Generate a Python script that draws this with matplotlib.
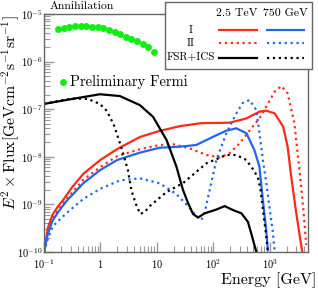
import matplotlib
matplotlib.use("Agg")
import matplotlib.pyplot as plt
from matplotlib.lines import Line2D
from matplotlib.patches import Rectangle
from matplotlib.ticker import FixedLocator, LogLocator, NullFormatter

plt.rcParams['font.family'] = 'serif'
plt.rcParams['font.serif'] = ['cmr10', 'DejaVu Serif']
plt.rcParams['mathtext.fontset'] = 'cm'
plt.rcParams['axes.formatter.use_mathtext'] = True

W, H = 318, 289

# Fermi preliminary points
fermi_E = [0.178, 0.224, 0.282, 0.355, 0.447, 0.562, 0.708, 0.891, 1.12, 1.41,
           1.78, 2.24, 2.82, 3.55, 4.47, 5.62, 7.08, 8.91]
fermi_F = [4.8e-6, 5.15e-6, 5.4e-6, 5.6e-6, 5.6e-6, 5.5e-6, 5.4e-6, 5.25e-6, 5.0e-6, 4.6e-6,
           4.2e-6, 3.8e-6, 3.35e-6, 3.0e-6, 2.75e-6, 2.4e-6, 2.06e-6, 1.62e-6]

# 2.5 TeV, model I
red_I_E = [0.1, 0.117, 0.141, 0.178, 0.219, 0.316, 0.5, 1.0, 2.0, 5.0, 11.2, 25.7, 61.7,
           195, 389, 661, 871, 1230, 1740, 2090, 2400, 2950, 3630, 3800]
red_I_F = [1.0e-10, 3.2e-10, 6.0e-10, 9.2e-10, 1.24e-9, 2.3e-9, 4.4e-9, 8.6e-9, 1.46e-8, 2.6e-8,
           3.5e-8, 4.4e-8, 5.1e-8, 5.2e-8, 6.4e-8, 8.9e-8, 9.3e-8, 8.2e-8, 4.3e-8, 1.63e-8,
           4.1e-9, 7.0e-10, 1.4e-10, 1.0e-10]

# 2.5 TeV, model II
red_II_E = [0.1, 0.117, 0.141, 0.178, 0.251, 0.5, 1.0, 2.0, 5.0, 11.2, 19.5, 38, 76, 132,
            195, 295, 501, 661, 871, 1230, 1620, 2090, 2750, 3390, 3980, 4470]
red_II_F = [1.0e-10, 2.6e-10, 4.9e-10, 7.6e-10, 1.30e-9, 3.3e-9, 6.1e-9, 1.04e-8, 1.44e-8,
            1.77e-8, 1.83e-8, 1.51e-8, 1.09e-8, 9.7e-9, 1.19e-8, 1.92e-8, 4.3e-8, 6.4e-8,
            1.13e-7, 2.33e-7, 3.07e-7, 2.16e-7, 5.1e-8, 5.3e-9, 7.6e-10, 1.4e-10]

# 750 GeV, model I
blue_I_E = [0.1, 0.117, 0.141, 0.178, 0.251, 0.5, 1.0, 2.0, 5.0, 11.2, 25.7, 50, 100, 170,
            257, 389, 537, 661, 759, 871, 933]
blue_I_F = [1.0e-10, 2.4e-10, 4.5e-10, 6.9e-10, 1.18e-9, 2.8e-9, 5.3e-9, 8.6e-9, 1.22e-8,
            1.55e-8, 1.63e-8, 1.77e-8, 2.64e-8, 3.53e-8, 3.97e-8, 3.12e-8, 1.39e-8, 6.2e-9,
            1.24e-9, 2.9e-10, 1.1e-10]

# 750 GeV, model II
blue_II_E = [0.1, 0.118, 0.144, 0.252, 0.497, 0.98, 2.2, 5.0, 11.3, 22.3, 38.4, 50.5, 61.8,
             70.8, 86.7, 114, 171, 258, 333, 443, 582, 713, 760, 885, 1000, 1130, 1225]
blue_II_F = [1.0e-10, 1.97e-10, 3.5e-10, 6.6e-10, 1.30e-9, 2.11e-9, 3.18e-9, 3.53e-9, 2.77e-9,
             1.65e-9, 8.4e-10, 5.7e-10, 4.7e-10, 6.9e-10, 2.0e-9, 8.6e-9, 3.12e-8, 8.2e-8,
             1.35e-7, 1.56e-7, 9.6e-8, 1.63e-8, 8.6e-9, 2.56e-9, 8.4e-10, 2.9e-10, 1.1e-10]

# FSR+ICS, 2.5 TeV
fsr_25_E = [0.1, 0.313, 0.98, 2.21, 5.0, 8.6, 14.9, 22.3, 29.2, 35.8, 43.9, 53.8, 70.8, 114,
            160, 224, 316, 413, 480, 582]
fsr_25_F = [1.29e-7, 1.64e-7, 2.06e-7, 1.89e-7, 1.22e-7, 6.9e-8, 2.25e-8, 6.2e-9, 2.0e-9,
            1.07e-9, 6.3e-10, 5.3e-10, 6.5e-10, 7.8e-10, 9.2e-10, 7.6e-10, 6.5e-10, 4.3e-10,
            2.3e-10, 1.0e-10]

# FSR+ICS, 750 GeV
fsr_750_E = [0.1, 0.192, 0.354, 0.60, 0.98, 1.30, 1.73, 2.31, 3.07, 3.54, 4.25, 5.1, 6.1, 7.5,
             14.9, 29.2, 75.9, 171, 258, 387, 506, 621, 693, 783, 867, 933]
fsr_750_F = [1.29e-7, 1.52e-7, 1.68e-7, 1.64e-7, 1.29e-7, 9.2e-8, 4.7e-8, 1.69e-8, 5.3e-9,
             2.0e-9, 1.02e-9, 6.3e-10, 6.9e-10, 9.2e-10, 1.82e-9, 2.8e-9, 7.3e-9, 1.09e-8,
             1.09e-8, 8.6e-9, 5.5e-9, 3.7e-9, 2.0e-9, 6.0e-10, 2.3e-10, 1.0e-10]

x_ticks = [0.1, 1, 10, 100, 1000]
x_tick_labels = [r'$10^{-1}$', r'$1$', r'$10$', r'$10^{2}$', r'$10^{3}$']
y_ticks = [1e-10, 1e-9, 1e-8, 1e-7, 1e-6, 1e-5]
y_tick_labels = [r'$10^{-10}$', r'$10^{-9}$', r'$10^{-8}$', r'$10^{-7}$', r'$10^{-6}$', r'$10^{-5}$']

RED = '#ff2a1a'
BLUE = '#2266ee'
GREEN = '#11ee11'
LW = 1.6


def fx(px):
    return px / W


def fy(py):
    return 1 - py / H


fig = plt.figure(figsize=(W / 100, H / 100), dpi=100)
ax = fig.add_axes([fx(44), fy(252), fx(308) - fx(44), fy(14) - fy(252)])

ax.plot(fermi_E, fermi_F, 'o', color=GREEN, ms=5, mec='none', zorder=3)
ax.plot(red_I_E, red_I_F, '-', color=RED, lw=LW)
ax.plot(red_II_E, red_II_F, ':', color=RED, lw=LW)
ax.plot(blue_I_E, blue_I_F, '-', color=BLUE, lw=LW)
ax.plot(blue_II_E, blue_II_F, ':', color=BLUE, lw=LW)
ax.plot(fsr_25_E, fsr_25_F, '-', color='black', lw=LW)
ax.plot(fsr_750_E, fsr_750_F, ':', color='black', lw=LW)

ax.set_xscale('log')
ax.set_yscale('log')
ax.set_xlim(0.1, 4800)
ax.set_ylim(1e-10, 1e-5)

ax.xaxis.set_major_locator(FixedLocator(x_ticks))
ax.set_xticklabels(x_tick_labels)
ax.yaxis.set_major_locator(FixedLocator(y_ticks))
ax.set_yticklabels(y_tick_labels)
ax.xaxis.set_minor_locator(LogLocator(base=10, subs=range(2, 10), numticks=20))
ax.yaxis.set_minor_locator(LogLocator(base=10, subs=range(2, 10), numticks=20))
ax.xaxis.set_minor_formatter(NullFormatter())
ax.yaxis.set_minor_formatter(NullFormatter())

ax.tick_params(which='both', direction='in', colors='#999999', labelcolor='black',
               labelsize=7.5, top=False, right=False)
ax.tick_params(which='major', length=7, width=1)
ax.tick_params(which='minor', length=4, width=0.8)
ax.tick_params(axis='x', pad=4)
ax.tick_params(axis='y', pad=1)
for s in ax.spines.values():
    s.set_color('#666666')
    s.set_linewidth(1.0)

ax.set_ylabel(r'$E^2\times\mathrm{Flux[GeVcm^{-2}s^{-1}sr^{-1}]}$', fontsize=11.3)
ax.yaxis.set_label_coords(-0.085, 0.585)
fig.text(fx(316), fy(288), 'Energy [GeV]', ha='right', va='bottom', fontsize=11.5)
fig.text(fx(50), fy(6), 'Annihilation', ha='left', va='center', fontsize=8.5)

# Fermi marker label
fig.lines.append(Line2D([fx(62.7)], [fy(81.7)], marker='o', color=GREEN, ms=5, mec='none',
                        transform=fig.transFigure))
fig.text(fx(70), fy(82), 'Preliminary Fermi', ha='left', va='center', fontsize=10.5)

# legend table
fig.patches.append(Rectangle((fx(165), fy(69)), fx(312) - fx(165), fy(2) - fy(69),
                             facecolor='white', edgecolor='#666666', lw=1.0,
                             transform=fig.transFigure, zorder=5))
fig.text(fx(237), fy(13), '2.5 TeV', ha='center', va='center', fontsize=8.5, zorder=6)
fig.text(fx(285), fy(13), '750 GeV', ha='center', va='center', fontsize=8.5, zorder=6)
rows = [('I', 30, RED, BLUE, '-', '-'),
        ('II', 43, RED, BLUE, ':', ':'),
        ('FSR+ICS', 57.5, 'black', 'black', '-', ':')]
for name, yy, c1, c2, ls1, ls2 in rows:
    fig.text(fx(191), fy(yy), name, ha='center', va='center', fontsize=8, zorder=6)
    fig.lines.append(Line2D([fx(219), fx(257)], [fy(yy), fy(yy)], color=c1, ls=ls1, lw=LW,
                            transform=fig.transFigure, zorder=6))
    fig.lines.append(Line2D([fx(267), fx(304)], [fy(yy), fy(yy)], color=c2, ls=ls2, lw=LW,
                            transform=fig.transFigure, zorder=6))

fig.savefig('out.png', dpi=100)
